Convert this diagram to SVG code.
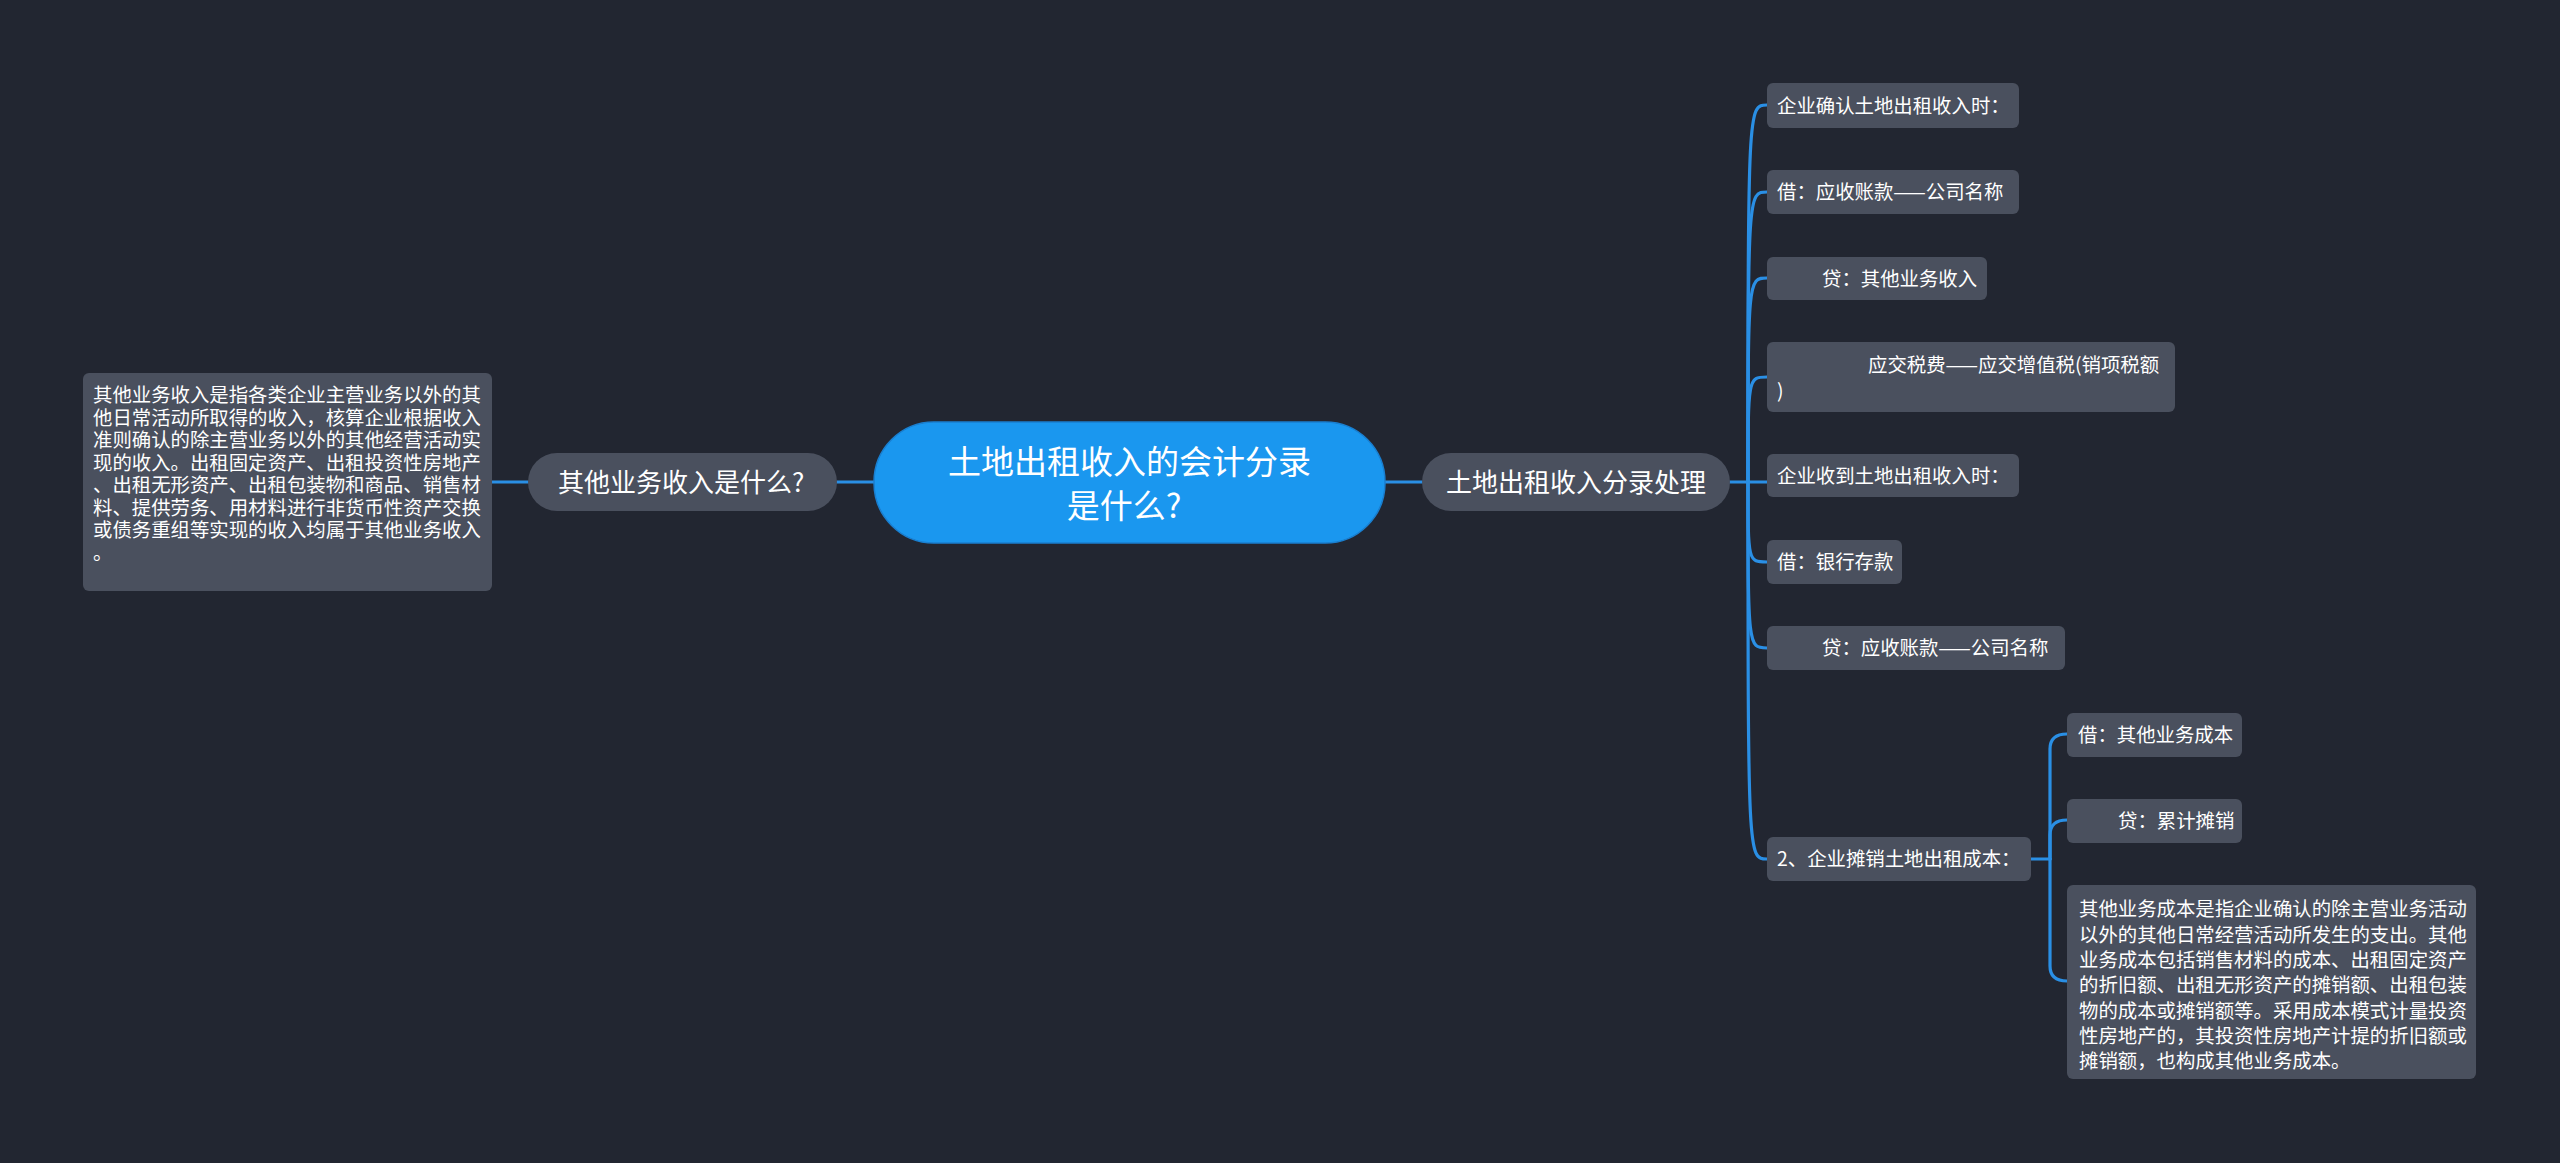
<svg xmlns="http://www.w3.org/2000/svg" width="2560" height="1163" viewBox="0 0 2560 1163">
<defs>
<style>
text{font-family:"Noto Sans CJK SC","Noto Sans",sans-serif;fill:#ffffff;}
.bg{fill:#222631;}
.n{fill:#4a505e;}
.root{fill:#1a97ef;stroke:#1a7fd0;stroke-width:1.5;}
.c{fill:none;stroke:#2a8fe5;stroke-width:3.2;stroke-linecap:round;}
.s{font-size:19.4px;}
.m{font-size:26px;}
.r{font-size:33px;}
</style>
</defs>
<rect class="bg" x="0" y="0" width="2560" height="1163"/>
<g id="connectors">
<path class="c" d="M874,482 L837,482"/>
<path class="c" d="M528,482 L491,482"/>
<path class="c" d="M1385,482 L1422,482"/>
<path class="c" d="M1730,482 L1748,482"/>
<path class="c" d="M1748,482 C1748,105 1748,105 1767,105"/>
<path class="c" d="M1748,482 C1748,192 1748,192 1767,192"/>
<path class="c" d="M1748,482 C1748,278 1748,278 1767,278"/>
<path class="c" d="M1748,482 C1748,377 1748,377 1767,377"/>
<path class="c" d="M1748,482 L1767,482"/>
<path class="c" d="M1748,482 C1748,562 1748,562 1767,562"/>
<path class="c" d="M1748,482 C1748,648 1748,648 1767,648"/>
<path class="c" d="M1748,482 C1748,859 1748,859 1767,859"/>
<path class="c" d="M2031,859 L2050,859"/>
<path class="c" d="M2050,859 L2050,749 Q2050,734 2067,734"/>
<path class="c" d="M2050,859 L2050,835 Q2050,820 2067,820"/>
<path class="c" d="M2050,859 L2050,966 Q2050,981 2067,981"/>
</g>
<g id="root">
<rect class="root" x="874" y="422" width="511" height="121" rx="60"/>
<text class="r" text-anchor="middle"><tspan x="1129.5" y="473.5">土地出租收入的会计分录</tspan><tspan x="1124" y="517.5">是什么?</tspan></text>
</g>
<g id="n-left">
<rect class="n" x="528" y="453" width="309" height="58" rx="29"/>
<text class="m" x="558" y="492">其他业务收入是什么?</text>
</g>
<g id="n-left-leaf">
<rect class="n" x="83" y="373" width="409" height="218" rx="6"/>
<text class="s"><tspan x="93" y="402.4">其他业务收入是指各类企业主营业务以外的其</tspan><tspan x="93" y="424.9">他日常活动所取得的收入，核算企业根据收入</tspan><tspan x="93" y="447.4">准则确认的除主营业务以外的其他经营活动实</tspan><tspan x="93" y="469.9">现的收入。出租固定资产、出租投资性房地产</tspan><tspan x="93" y="492.4">、出租无形资产、出租包装物和商品、销售材</tspan><tspan x="93" y="514.9">料、提供劳务、用材料进行非货币性资产交换</tspan><tspan x="93" y="537.4">或债务重组等实现的收入均属于其他业务收入</tspan><tspan x="93" y="559.9">。</tspan></text>
</g>
<g id="n-right">
<rect class="n" x="1422" y="453" width="308" height="58" rx="29"/>
<text class="m" x="1576" y="491.5" text-anchor="middle">土地出租收入分录处理</text>
</g>
<g id="r1">
<rect class="n" x="1767" y="83" width="252" height="45" rx="6"/>
<text class="s" x="1777" y="113">企业确认土地出租收入时：</text>
</g>
<g id="r2">
<rect class="n" x="1767" y="170" width="252" height="44" rx="6"/>
<text class="s" x="1777" y="199.4">借：应收账款——公司名称</text>
</g>
<g id="r3">
<rect class="n" x="1767" y="257" width="220" height="43" rx="6"/>
<text class="s" x="1822" y="285.9">贷：其他业务收入</text>
</g>
<g id="r4">
<rect class="n" x="1767" y="342" width="408" height="70" rx="6"/>
<text class="s"><tspan x="1868" y="372.4">应交税费——应交增值税(销项税额</tspan><tspan x="1777" y="397.5">)</tspan></text>
</g>
<g id="r5">
<rect class="n" x="1767" y="454" width="252" height="43" rx="6"/>
<text class="s" x="1777" y="482.9">企业收到土地出租收入时：</text>
</g>
<g id="r6">
<rect class="n" x="1767" y="540" width="135" height="44" rx="6"/>
<text class="s" x="1777" y="569.4">借：银行存款</text>
</g>
<g id="r7">
<rect class="n" x="1767" y="626" width="298" height="44" rx="6"/>
<text class="s" x="1822" y="655.4">贷：应收账款——公司名称</text>
</g>
<g id="r8">
<rect class="n" x="1767" y="837" width="264" height="44" rx="6"/>
<text class="s" x="1777" y="866.4">2、企业摊销土地出租成本：</text>
</g>
<g id="r8a">
<rect class="n" x="2067" y="713" width="175" height="44" rx="6"/>
<text class="s" x="2078" y="742.4">借：其他业务成本</text>
</g>
<g id="r8b">
<rect class="n" x="2067" y="799" width="175" height="44" rx="6"/>
<text class="s" x="2118" y="828.4">贷：累计摊销</text>
</g>
<g id="r8c">
<rect class="n" x="2067" y="885" width="409" height="194" rx="6"/>
<text class="s"><tspan x="2079" y="916.4">其他业务成本是指企业确认的除主营业务活动</tspan><tspan x="2079" y="941.7">以外的其他日常经营活动所发生的支出。其他</tspan><tspan x="2079" y="967">业务成本包括销售材料的成本、出租固定资产</tspan><tspan x="2079" y="992.3">的折旧额、出租无形资产的摊销额、出租包装</tspan><tspan x="2079" y="1017.6">物的成本或摊销额等。采用成本模式计量投资</tspan><tspan x="2079" y="1042.9">性房地产的，其投资性房地产计提的折旧额或</tspan><tspan x="2079" y="1068.2">摊销额，也构成其他业务成本。</tspan></text>
</g>
</svg>
